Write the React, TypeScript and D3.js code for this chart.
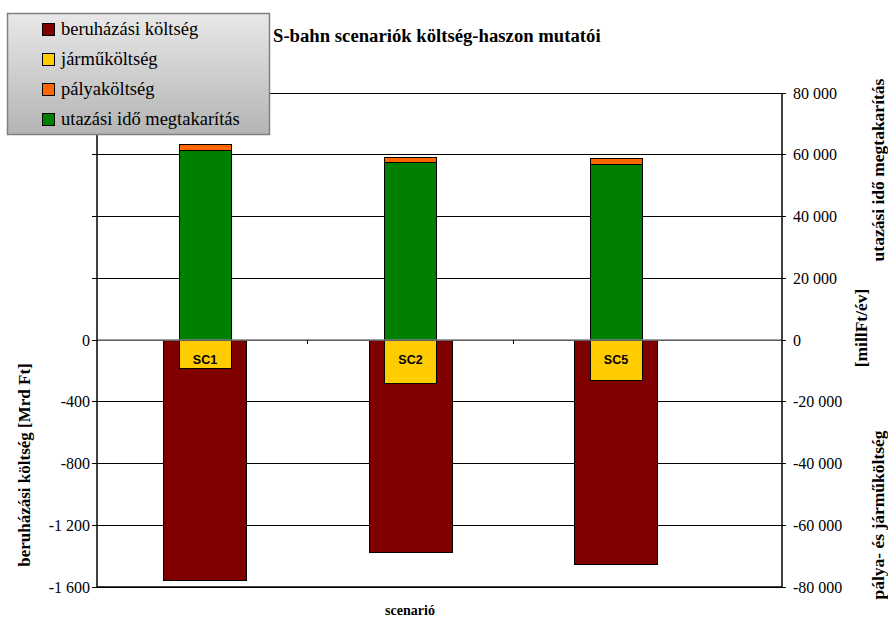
import React from "react";
import * as d3 from "d3";

// Scenario names and values
const scenarios = ["SC1", "SC2", "SC5"];
// investment cost, Mrd Ft (left axis)
const investmentCost = [-1555, -1375, -1455];
// vehicle cost, millFt/év (right axis)
const vehicleCost = [-9200, -14000, -13000];
// track cost, millFt/év (right axis, stacked on travel time savings)
const trackCost = [1700, 1600, 2100];
// travel time savings, millFt/év (right axis)
const timeSavings = [61500, 57500, 56700];

const leftTicks = [-1600, -1200, -800, -400, 0, 400, 800, 1200, 1600];
const rightTicks = [-80000, -60000, -40000, -20000, 0, 20000, 40000, 60000, 80000];

const legendItems = [
  { label: "beruházási költség", color: "#800000" },
  { label: "járműköltség", color: "#FFCC00" },
  { label: "pályaköltség", color: "#FF6600" },
  { label: "utazási idő megtakarítás", color: "#008000" },
];

const W = 888;
const H = 621;
const plotLeft = 97;
const plotRight = 782;
const plotTop = 93;
const plotBottom = 587;

const serif = "'Liberation Serif', 'Times New Roman', serif";
const sans = "'Liberation Sans', Arial, sans-serif";

const fmt = (v: number) => d3.format(",")(v).replace(/,/g, " ").replace("−", "-");

export default function App() {
  const yLeft = d3.scaleLinear().domain([-1600, 1600]).range([plotBottom, plotTop]);
  const yRight = d3.scaleLinear().domain([-80000, 80000]).range([plotBottom, plotTop]);
  const x = d3.scaleBand<string>().domain(scenarios).range([102.25, 718.75]).padding(0);
  const wideW = 83;
  const narrowW = 52;
  const zeroY = yLeft(0);

  return (
    <div style={{ position: "absolute", left: 0, top: 0 }}>
      <svg width={W} height={H} style={{ display: "block" }}>
        <defs>
          <linearGradient id="legendBg" x1="0" y1="0" x2="0" y2="1">
            <stop offset="0" stopColor="#e8e8e8" />
            <stop offset="1" stopColor="#b4b4b4" />
          </linearGradient>
        </defs>
        <rect width={W} height={H} fill="#fff" />

        {/* gridlines */}
        {leftTicks.map((t) => (
          <line key={"g" + t} x1={plotLeft} x2={plotRight} y1={yLeft(t)} y2={yLeft(t)}
            stroke="#000" strokeWidth={1} shapeRendering="crispEdges" />
        ))}

        {/* investment cost bars (primary axis) */}
        {scenarios.map((s, i) => {
          const cx = x(s)! + x.bandwidth() / 2;
          return (
            <rect key={"inv" + s} x={cx - wideW / 2} y={yLeft(0)} width={wideW}
              height={yLeft(investmentCost[i]) - yLeft(0)} fill="#800000" stroke="#000"
              strokeWidth={1} shapeRendering="crispEdges" />
          );
        })}

        {/* secondary axis bars */}
        {scenarios.map((s, i) => {
          const cx = x(s)! + x.bandwidth() / 2;
          const g0 = yRight(0);
          const g1 = yRight(timeSavings[i]);
          const o1 = yRight(timeSavings[i] + trackCost[i]);
          const v1 = yRight(vehicleCost[i]);
          return (
            <g key={"sec" + s}>
              <rect x={cx - narrowW / 2} y={g1} width={narrowW} height={g0 - g1} fill="#008000"
                stroke="#000" strokeWidth={1} shapeRendering="crispEdges" />
              <rect x={cx - narrowW / 2} y={o1} width={narrowW} height={g1 - o1} fill="#FF6600"
                stroke="#000" strokeWidth={1} shapeRendering="crispEdges" />
              <rect x={cx - narrowW / 2} y={g0} width={narrowW} height={v1 - g0} fill="#FFCC00"
                stroke="#000" strokeWidth={1} shapeRendering="crispEdges" />
              <text x={cx} y={g0 + 24} textAnchor="middle" fontFamily={sans} fontWeight="bold"
                fontSize={12.5} fill="#000">{s}</text>
            </g>
          );
        })}

        {/* category axis on zero line */}
        <line x1={plotLeft} x2={plotRight} y1={zeroY} y2={zeroY} stroke="#808080" strokeWidth={1.5} />
        {scenarios.slice(1).map((s) => (
          <line key={"ct" + s} x1={x(s)!} x2={x(s)!} y1={zeroY} y2={zeroY + 4} stroke="#000"
            strokeWidth={1} shapeRendering="crispEdges" />
        ))}

        {/* left axis */}
        <line x1={plotLeft} x2={plotLeft} y1={plotTop} y2={plotBottom} stroke="#000" strokeWidth={1.5} />
        {leftTicks.map((t) => (
          <g key={"lt" + t}>
            <line x1={plotLeft - 5} x2={plotLeft} y1={yLeft(t)} y2={yLeft(t)} stroke="#000"
              shapeRendering="crispEdges" />
            {t <= 0 && (
              <text x={plotLeft - 7} y={yLeft(t) + 5.5} textAnchor="end" fontFamily={serif}
                fontSize={16} fill="#000">{fmt(t)}</text>
            )}
          </g>
        ))}

        {/* right axis */}
        <line x1={plotRight} x2={plotRight} y1={plotTop} y2={plotBottom} stroke="#000" strokeWidth={1.5} />
        {rightTicks.map((t) => (
          <g key={"rt" + t}>
            <line x1={plotRight} x2={plotRight + 4} y1={yRight(t)} y2={yRight(t)} stroke="#000"
              shapeRendering="crispEdges" />
            <text x={plotRight + 11} y={yRight(t) + 5.5} textAnchor="start" fontFamily={serif}
              fontSize={16} fill="#000">{fmt(t)}</text>
          </g>
        ))}

        {/* bottom axis line */}
        <line x1={plotLeft} x2={plotRight} y1={plotBottom} y2={plotBottom} stroke="#000" strokeWidth={1.5} />

        {/* axis titles */}
        <text transform={`translate(30,465) rotate(-90)`} textAnchor="middle" fontFamily={serif}
          fontWeight="bold" fontSize={17} fill="#000">beruházási költség [Mrd Ft]</text>
        <text transform={`translate(884,170) rotate(-90)`} textAnchor="middle" fontFamily={serif}
          fontWeight="bold" fontSize={17.5} fill="#000">utazási idő megtakarítás</text>
        <text transform={`translate(867,328) rotate(-90)`} textAnchor="middle" fontFamily={serif}
          fontWeight="bold" fontSize={17.5} fill="#000">[millFt/év]</text>
        <text transform={`translate(884,515) rotate(-90)`} textAnchor="middle" fontFamily={serif}
          fontWeight="bold" fontSize={17.5} fill="#000">pálya- és járműköltség</text>
        <text x={410} y={615} textAnchor="middle" fontFamily={serif} fontWeight="bold" fontSize={14}
          fill="#000">scenarió</text>

        {/* title */}
        <text x={273} y={42} fontFamily={serif} fontWeight="bold" fontSize={18.7} fill="#000">
          S-bahn scenariók költség-haszon mutatói
        </text>

        {/* legend */}
        <rect x={7.5} y={13.5} width={262} height={121} fill="url(#legendBg)" stroke="#808080" strokeWidth={1.5} />
        {legendItems.map((it, i) => (
          <g key={it.label} transform={`translate(42.5, ${23.5 + i * 30})`}>
            <rect x={0} y={0} width={12} height={12} fill={it.color} stroke="#000" strokeWidth={1} />
            <text x={18.5} y={11.5} fontFamily={serif} fontSize={18.5} fill="#000">{it.label}</text>
          </g>
        ))}
      </svg>
    </div>
  );
}
